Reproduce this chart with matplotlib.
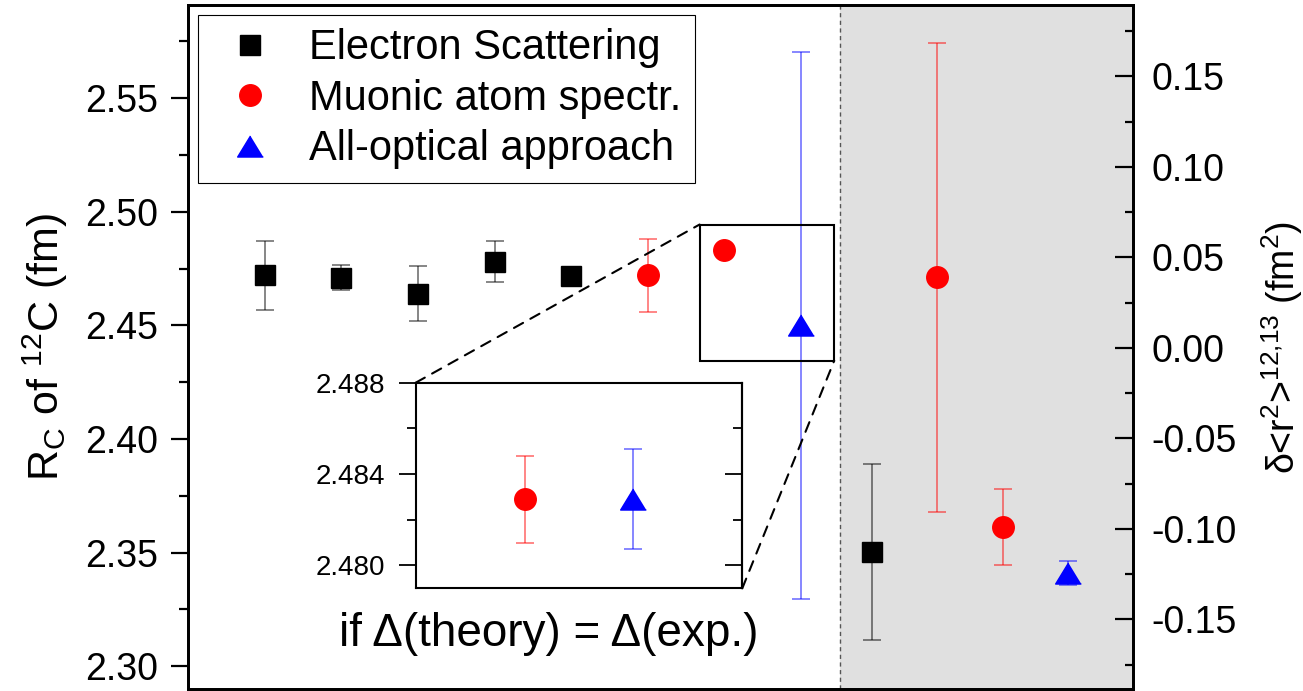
import matplotlib
matplotlib.use("Agg")
import matplotlib.pyplot as plt
from matplotlib.patches import Rectangle, ConnectionPatch
from matplotlib.ticker import MultipleLocator, FormatStrFormatter

plt.rcParams['font.family'] = ['Liberation Sans', 'DejaVu Sans']
plt.rcParams['mathtext.fontset'] = 'custom'
plt.rcParams['mathtext.rm'] = 'Liberation Sans'
plt.rcParams['mathtext.it'] = 'Liberation Sans:italic'
plt.rcParams['mathtext.default'] = 'regular'
plt.rcParams['axes.unicode_minus'] = False

# left axis: R_C of 12C (fm)
es_x = [1, 2, 3, 4, 5]
es_r = [2.472, 2.471, 2.464, 2.478, 2.4718]
es_err = [0.015, 0.0054, 0.012, 0.009, 0.0017]
mu_x = [6, 7]
mu_r = [2.472, 2.4831]
mu_err = [0.016, 0.0019]
op_x = [8]
op_r = [2.450]
op_err = [0.1205]

# right axis: delta <r^2> 12,13 (fm^2)
d_es_x = [8.93]
d_es = [-0.113]
d_es_err = [0.0487]
d_mu_x = [9.77, 10.63]
d_mu = [0.039, -0.099]
d_mu_err = [0.1296, 0.021]
d_op_x = [11.48]
d_op = [-0.1243]
d_op_err = [0.0065]

# inset
ins_x = [1, 2]
ins_r = [2.4829, 2.4829]
ins_err = [0.0019, 0.0022]

labels = ['Electron Scattering', 'Muonic atom spectr.', 'All-optical approach']
sep_x = 8.51
tri = [(0, 0.82), (-1, -0.82), (1, -0.82)]

fig = plt.figure(figsize=(13.03, 6.91), dpi=100)
ax = fig.add_axes([188 / 1303, 2 / 691, 945 / 1303, 684 / 691])
ax.set_xlim(0, 12.33)
ax.set_ylim(2.29, 2.591)
ax.axvspan(sep_x, 12.33, color='#e0e0e0', zorder=0, lw=0)
ax.axvline(sep_x, color='#555555', lw=1.0, ls=(0, (3, 2.5)), zorder=1)

eb = dict(fmt='none', capsize=6.5, elinewidth=1.1, capthick=1.1, alpha=0.6, zorder=2)
ax.errorbar(es_x, es_r, yerr=es_err, ecolor='black', **eb)
ax.errorbar(mu_x, mu_r, yerr=mu_err, ecolor='red', **eb)
ax.errorbar(op_x, op_r, yerr=op_err, ecolor='blue', **eb)
h1, = ax.plot(es_x, es_r, 's', color='black', ms=14.5, ls='none', zorder=3, label=labels[0])
h2, = ax.plot(mu_x, mu_r, 'o', color='red', ms=15.5, ls='none', zorder=3, label=labels[1])
h3, = ax.plot(op_x, op_r, marker=tri, color='blue', ms=18.5, ls='none', zorder=3, label=labels[2])

ax.add_patch(Rectangle((6.675, 2.4345), 8.432 - 6.675, 2.4944 - 2.4345,
                       fill=False, edgecolor='black', lw=1.5, zorder=4))

ax.set_xticks([])
ax.yaxis.set_major_locator(MultipleLocator(0.05))
ax.yaxis.set_minor_locator(MultipleLocator(0.025))
ax.yaxis.set_major_formatter(FormatStrFormatter('%.2f'))
ax.tick_params(axis='y', which='major', direction='out', length=12.5, width=1.6,
               labelsize=27, pad=9)
ax.tick_params(axis='y', which='minor', direction='out', length=6.5, width=1.6)
for s in ax.spines.values():
    s.set_linewidth(2.0)
ax.set_ylabel('R$_C$ of $^{12}$C (fm)', fontsize=31)
ax.yaxis.set_label_coords(-0.125, 0.5)

ax2 = ax.twinx()
ax2.set_ylim(-0.1885, 0.1894)
ax2.errorbar(d_es_x, d_es, yerr=d_es_err, ecolor='black', **eb)
ax2.errorbar(d_mu_x, d_mu, yerr=d_mu_err, ecolor='red', **eb)
ax2.errorbar(d_op_x, d_op, yerr=d_op_err, ecolor='blue', **eb)
ax2.plot(d_es_x, d_es, 's', color='black', ms=14.5, ls='none', zorder=3)
ax2.plot(d_mu_x, d_mu, 'o', color='red', ms=15.5, ls='none', zorder=3)
ax2.plot(d_op_x, d_op, marker=tri, color='blue', ms=18.5, ls='none', zorder=3)
ax2.yaxis.set_major_locator(MultipleLocator(0.05))
ax2.yaxis.set_minor_locator(MultipleLocator(0.025))
ax2.yaxis.set_major_formatter(FormatStrFormatter('%.2f'))
ax2.tick_params(axis='y', which='major', direction='in', length=13, width=1.6,
                labelsize=27, pad=13.5)
ax2.tick_params(axis='y', which='minor', direction='in', length=6, width=1.6)
for s in ax2.spines.values():
    s.set_linewidth(2.0)
ax2.set_ylabel('δ<r$^2$>$^{12{,}13}$ (fm$^2$)', fontsize=27)
ax2.yaxis.set_label_coords(1.134, 0.5)

fig.legend(handles=[h1, h2, h3], loc='upper left',
           bbox_to_anchor=(198 / 1303, 1 - 15 / 691), bbox_transform=fig.transFigure,
           fontsize=30, frameon=True, fancybox=False, framealpha=1, edgecolor='black',
           borderpad=0.32, labelspacing=0.25, handlelength=1.85, handletextpad=0.5,
           borderaxespad=0)
fig.legends[0].get_frame().set_linewidth(0.8)

# inset
axi = fig.add_axes([415.7 / 1303, (691 - 588.3) / 691, 326.6 / 1303, 205.6 / 691], zorder=5)
axi.set_xlim(0, 3)
axi.set_ylim(2.479, 2.488)
axi.errorbar(ins_x[:1], ins_r[:1], yerr=ins_err[:1], ecolor='red', **eb)
axi.errorbar(ins_x[1:], ins_r[1:], yerr=ins_err[1:], ecolor='blue', **eb)
axi.plot(ins_x[:1], ins_r[:1], 'o', color='red', ms=15.5, ls='none', zorder=3)
axi.plot(ins_x[1:], ins_r[1:], marker=tri, color='blue', ms=18.5, ls='none', zorder=3)
axi.set_xticks([])
axi.yaxis.set_major_locator(MultipleLocator(0.004))
axi.yaxis.set_minor_locator(MultipleLocator(0.002))
axi.yaxis.set_major_formatter(FormatStrFormatter('%.3f'))
axi.tick_params(axis='y', which='major', direction='out', length=12.5, width=1.3,
                labelsize=20, pad=9.5, right=False)
axi.tick_params(axis='y', which='minor', direction='out', length=6.5, width=1.3, right=False)
for s in axi.spines.values():
    s.set_linewidth(1.5)
axr = axi.secondary_yaxis('right')
axr.yaxis.set_major_locator(MultipleLocator(0.004))
axr.yaxis.set_minor_locator(MultipleLocator(0.002))
axr.tick_params(axis='y', which='major', direction='in', length=12.5, width=1.3, labelright=False)
axr.tick_params(axis='y', which='minor', direction='in', length=6.5, width=1.3)
axr.spines['right'].set_linewidth(1.5)
axi.text(0.408, -0.281, 'if Δ(theory) = Δ(exp.)', transform=axi.transAxes,
         ha='center', va='baseline', fontsize=33)

c1 = ConnectionPatch(xyA=(0, 1), coordsA=axi.transAxes, xyB=(6.675, 2.4944), coordsB=ax.transData,
                     ls=(0, (5, 4)), lw=1.5, color='black', zorder=6)
c2 = ConnectionPatch(xyA=(1, 0), coordsA=axi.transAxes, xyB=(8.432, 2.4345), coordsB=ax.transData,
                     ls=(0, (5, 4)), lw=1.5, color='black', zorder=6)
fig.add_artist(c1)
fig.add_artist(c2)

fig.savefig('out.png', dpi=100)
